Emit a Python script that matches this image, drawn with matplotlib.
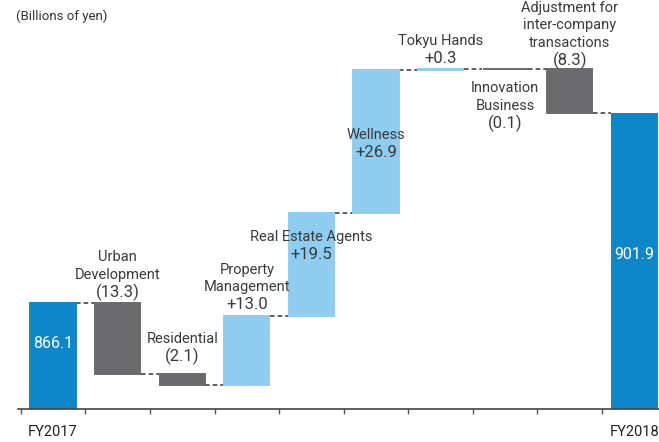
import matplotlib.pyplot as plt

plt.rcParams['font.family'] = ['Roboto', 'DejaVu Sans']

# Segment changes, FY2017 -> FY2018 (billions of yen)
names = ["FY2017", "Urban\nDevelopment", "Residential", "Property\nManagement",
         "Real Estate Agents", "Wellness", "Tokyu Hands", "Innovation\nBusiness",
         "Adjustment for\ninter-company\ntransactions", "FY2018"]
values = [866.1, -13.3, -2.1, 13.0, 19.5, 26.9, 0.3, -0.1, -8.3, 901.9]
value_text = ["866.1", "(13.3)", "(2.1)", "+13.0", "+19.5", "+26.9", "+0.3", "(0.1)", "(8.3)", "901.9"]

# label placement: pixel offset of the value line from the bar top (or bottom for "below")
label_off = [-40, 11, 17, 11, -42, -82, 10, -54, 9, -141]
label_ref = ["top", "top", "top", "top", "top", "top", "top", "bottom", "top", "top"]

c_total = "#0d87c9"
c_up = "#8ecdf0"
c_down = "#6b6b6e"
c_text = "#3a3a3a"

fig = plt.figure(figsize=(6.59, 4.42), dpi=100)
ax = fig.add_axes([20.7 / 659, 32.7 / 442, 646 / 659, 409.3 / 442])

bottoms, tops, colors = [], [], []
level = 0
for i, v in enumerate(values):
    if i == 0 or i == len(values) - 1:
        bottoms.append(846.05)
        tops.append(v)
        colors.append(c_total)
        level = v
    else:
        new = level + v
        bottoms.append(min(level, new))
        tops.append(max(level, new))
        colors.append(c_up if v > 0 else c_down)
        level = new

x = list(range(len(values)))
heights = [t - b for t, b in zip(tops, bottoms)]
# thin edge in the face colour keeps the tiny bars (0.3, 0.1) visible
ax.bar(x, heights, bottom=bottoms, width=0.7, color=colors, edgecolor=colors,
       linewidth=1.4, zorder=2)

# dashed connectors between bars
level = values[0]
for i in range(len(values) - 1):
    if 0 < i:
        level = level + values[i]
    ax.plot([i + 0.36, i + 1 - 0.36], [level, level], color="#333333",
            lw=1.1, ls=(0, (3, 2)), zorder=1)

ax.set_xlim(-0.5, 9.5)
ax.set_ylim(846.05, 923.4)

for s in ["left", "right", "top"]:
    ax.spines[s].set_visible(False)
ax.spines["bottom"].set_color("#444444")
ax.spines["bottom"].set_linewidth(1.2)
ax.spines["bottom"].set_bounds(-0.54, 9.5)
ax.set_yticks([])
ax.set_xticks([i - 0.5 for i in range(len(values))])
ax.set_xticklabels([])
ax.tick_params(axis="x", length=3.5, width=1, color="#555555", direction="out")

# labels
px = 72 / 100
for i in range(len(values)):
    ref = tops[i] if label_ref[i] == "top" else bottoms[i]
    off = label_off[i]
    total = i == 0 or i == len(values) - 1
    ax.annotate(value_text[i], (i, ref), xytext=(0, off * px), textcoords="offset points",
                ha="center", va="center", fontsize=11.5 if total else 12,
                color="white" if total else c_text)
    if total:
        ax.annotate(names[i], (i, 846.05), xytext=(0, -23 * px), textcoords="offset points",
                    ha="center", va="center", fontsize=10.5, color="#222222")
        continue
    lines = names[i].split("\n")
    n = len(lines)
    for k, line in enumerate(lines):
        ax.annotate(line, (i, ref), xytext=(0, (off + 17.5 * (n - k)) * px),
                    textcoords="offset points", ha="center", va="center",
                    fontsize=10.5, color=c_text)

fig.text(16 / 659, 1 - 16.7 / 442, "(Billions of yen)", ha="left", va="center",
         fontsize=9.5, color="#333333")

fig.savefig("out.png", dpi=100)
